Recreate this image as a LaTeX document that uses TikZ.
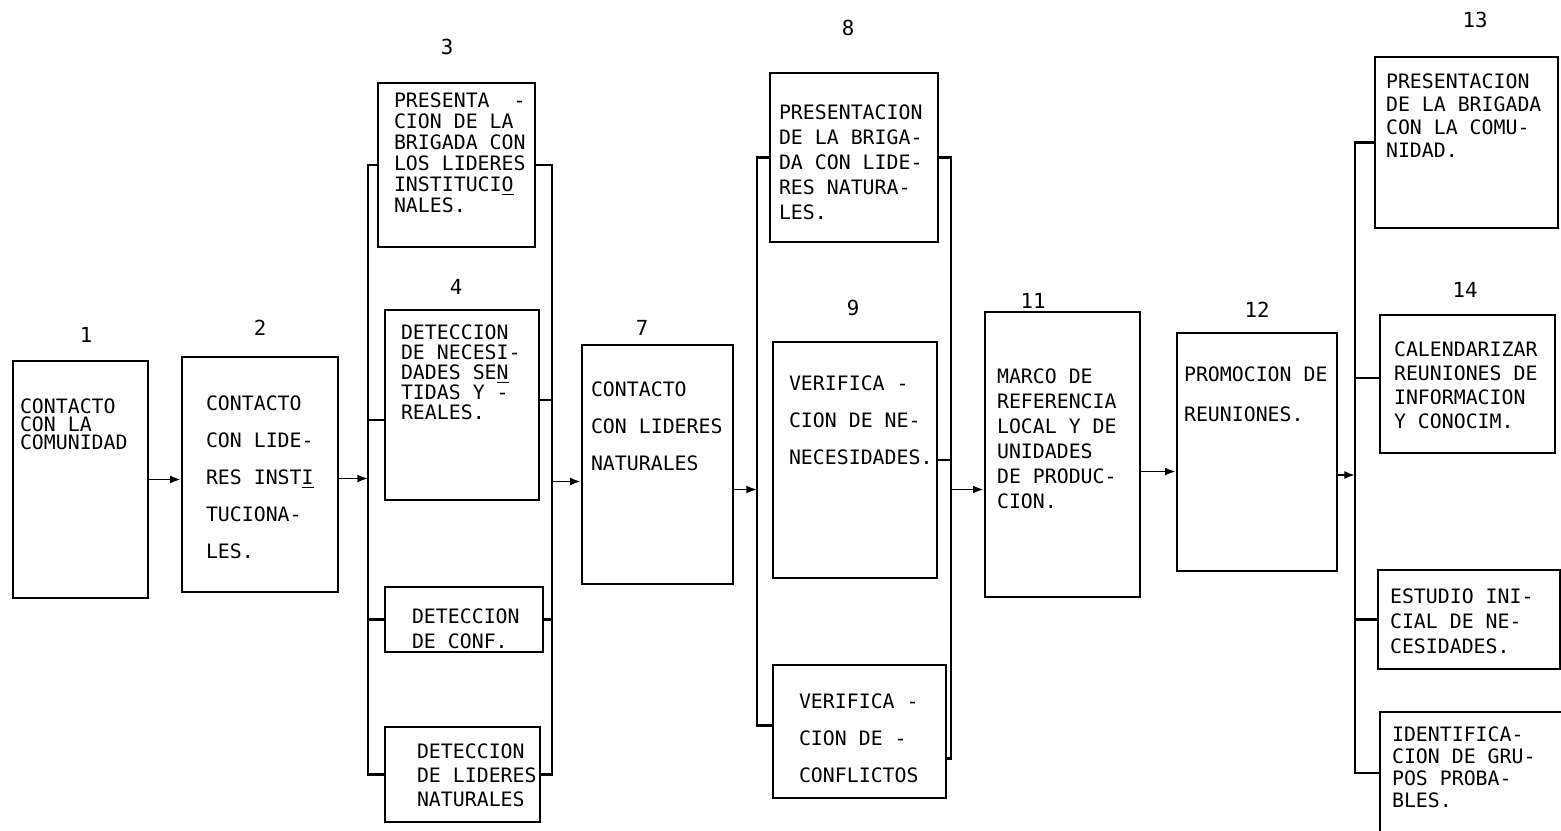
\documentclass[tikz,border=0pt]{standalone}
\usepackage{fontspec}
\newfontfamily\typefont{DejaVu Sans Mono}
\usetikzlibrary{arrows.meta,positioning,calc,fit}

\begin{document}
\begin{tikzpicture}[
  x=0.02cm, y=-0.02cm,
  >={Latex[length=6pt,width=4.5pt]},
  box/.style={draw, line width=1.5pt, inner sep=0pt},
  txt/.style={anchor=north west, align=left, inner sep=0pt,
    font=\typefont\fontsize{11.3}{#1}\selectfont},
  num/.style={inner sep=0pt, font=\typefont\fontsize{11.8}{13}\selectfont},
  bus/.style={line width=1.5pt},
  flow/.style={->, line width=1.1pt}
]
  \useasboundingbox (0,0) rectangle (1561,831);
  \clip (0,0) rectangle (1561,831);

  % boxes
  \node[box, fit={(13,361) (148,598)}] (b1) {};
  \node[box, fit={(182,357) (338,592)}] (b2) {};
  \node[box, fit={(378,83) (535,247)}] (b3) {};
  \node[box, fit={(385,310) (539,500)}] (b4) {};
  \node[box, fit={(385,587) (543,652)}] (b5) {};
  \node[box, fit={(385,727) (540,822)}] (b6) {};
  \node[box, fit={(582,345) (733,584)}] (b7) {};
  \node[box, fit={(770,73) (938,242)}] (b8) {};
  \node[box, fit={(773,342) (937,578)}] (b9) {};
  \node[box, fit={(773,665) (946,798)}] (b10) {};
  \node[box, fit={(985,312) (1140,597)}] (b11) {};
  \node[box, fit={(1177,333) (1337,571)}] (b12) {};
  \node[box, fit={(1375,57) (1558,228)}] (b13) {};
  \node[box, fit={(1380,315) (1555,453)}] (b14) {};
  \node[box, fit={(1378,570) (1560,669)}] (b15) {};
  \node[box, fit={(1380,712) (1575,850)}] (b16) {};

  % numbers
  \node[num] (n1) at (86,335) {1};
  \node[num] (n2) at (260,328) {2};
  \node[num] (n3) at (447,47) {3};
  \node[num] (n4) at (456,287) {4};
  \node[num] (n7) at (642,328) {7};
  \node[num] (n8) at (848,28) {8};
  \node[num] (n9) at (853,308) {9};
  \node[num] (n11) at (1033,301) {11};
  \node[num] (n12) at (1257,310) {12};
  \node[num] (n13) at (1475,20) {13};
  \node[num] (n14) at (1465,290) {14};

  % texts
  \node[txt=10.2] (t1) at ($(b1.north west)+(8,39)$) {CONTACTO\\CON LA\\COMUNIDAD};
  \node[txt=21] (t2) at ($(b2.north west)+(25,40)$) {CONTACTO\\CON LIDE-\\RES INST\underline{I}\\TUCIONA-\\LES.};
  \node[txt=11.9] (t3) at ($(b3.north west)+(17,11)$) {PRESENTA\ \ -\\CION DE LA\\BRIGADA CON\\LOS LIDERES\\INSTITUCI\underline{O}\\NALES.};
  \node[txt=11.3] (t4) at ($(b4.north west)+(17,16)$) {DETECCION\\DE NECESI-\\DADES SE\underline{N}\\TIDAS Y -\\REALES.};
  \node[txt=14.2] (t5) at ($(b5.north west)+(28,23)$) {DETECCION\\DE CONF.};
  \node[txt=13.6] (t6) at ($(b6.north west)+(33,18)$) {DETECCION\\DE LIDERES\\NATURALES};
  \node[txt=21] (t7) at ($(b7.north west)+(10,38)$) {CONTACTO\\CON LIDERES\\NATURALES};
  \node[txt=14.2] (t8) at ($(b8.north west)+(10,33)$) {PRESENTACION\\DE LA BRIGA-\\DA CON LIDE-\\RES NATURA-\\LES.};
  \node[txt=21] (t9) at ($(b9.north west)+(17,35)$) {VERIFICA -\\CION DE NE-\\NECESIDADES.};
  \node[txt=21] (t10) at ($(b10.north west)+(27,30)$) {VERIFICA -\\CION DE -\\CONFLICTOS};
  \node[txt=14.2] (t11) at ($(b11.north west)+(13,58)$) {MARCO DE\\REFERENCIA\\LOCAL Y DE\\UNIDADES\\DE PRODUC-\\CION.};
  \node[txt=22.7] (t12) at ($(b12.north west)+(8,35)$) {PROMOCION DE\\REUNIONES.};
  \node[txt=13] (t13) at ($(b13.north west)+(12,18)$) {PRESENTACION\\DE LA BRIGADA\\CON LA COMU-\\NIDAD.};
  \node[txt=13.6] (t14) at ($(b14.north west)+(15,28)$) {CALENDARIZAR\\REUNIONES DE\\INFORMACION\\Y CONOCIM.};
  \node[txt=14.2] (t15) at ($(b15.north west)+(13,20)$) {ESTUDIO INI-\\CIAL DE NE-\\CESIDADES.};
  \node[txt=12.5] (t16) at ($(b16.north west)+(13,16)$) {IDENTIFICA-\\CION DE GRU-\\POS PROBA-\\BLES.};

  % bus lines
  \coordinate (busAl) at (368,0);
  \coordinate (busAr) at (552,0);
  \coordinate (busBl) at (757,0);
  \coordinate (busBr) at (951,0);
  \coordinate (busC) at (1355,0);

  \draw[bus] (b3.west) -| (b6.west -| busAl) -- (b6.west);
  \draw[bus] (b3.east) -| (b6.east -| busAr) -- (b6.east);
  \coordinate (l4) at ($(b4.west)+(0,15)$);
  \coordinate (r4) at ($(b4.east)+(0,-5)$);
  \draw[bus] (l4) -- (l4 -| busAl);
  \draw[bus] (r4) -- (r4 -| busAr);
  \draw[bus] (b5.west) -- (b5.west -| busAl);
  \draw[bus] (b5.east) -- (b5.east -| busAr);

  \coordinate (l10) at ($(b10.west)+(0,-6)$);
  \coordinate (r10) at ($(b10.east)+(0,27)$);
  \draw[bus] (b8.west) -| (l10 -| busBl) -- (l10);
  \draw[bus] (b8.east) -| (r10 -| busBr) -- (r10);
  \draw[bus] (b9.east) -- (b9.east -| busBr);

  \coordinate (l14) at ($(b14.west)+(0,-6)$);
  \coordinate (l16) at ($(b16.west)+(0,-8)$);
  \draw[bus] (b13.west) -| (l16 -| busC) -- (l16);
  \draw[bus] (l14) -- (l14 -| busC);
  \draw[bus] (b15.west) -- (b15.west -| busC);

  % arrows
  \coordinate (o2) at ($(b2.east)+(0,4)$);
  \coordinate (i7) at ($(b7.west)+(0,17)$);
  \coordinate (o7) at ($(b7.east)+(0,25)$);
  \coordinate (i11) at ($(b11.west)+(0,35)$);
  \coordinate (o11) at ($(b11.east)+(0,17)$);
  \coordinate (o12) at ($(b12.east)+(0,23)$);
  \draw[flow] (b1.east) -- (b1.east -| b2.west);
  \draw[flow] (o2) -- (o2 -| busAl);
  \draw[flow] (i7 -| busAr) -- (i7);
  \draw[flow] (o7) -- (o7 -| busBl);
  \draw[flow] (i11 -| busBr) -- (i11);
  \draw[flow] (o11) -- (o11 -| b12.west);
  \draw[flow] (o12) -- (o12 -| busC);
\end{tikzpicture}
\end{document}
